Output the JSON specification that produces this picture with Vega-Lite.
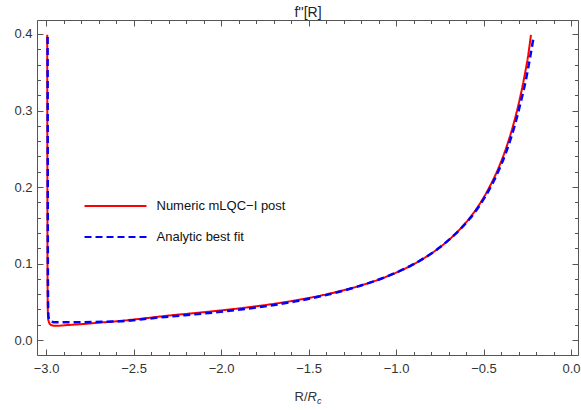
{
  "$schema": "https://vega.github.io/schema/vega-lite/v6.json",
  "width": 541,
  "height": 335,
  "autosize": {"type": "none"},
  "padding": {"left": 37, "top": 20, "right": 3, "bottom": 55},
  "background": "white",
  "config": {
    "view": {"stroke": "#555555", "strokeWidth": 1},
    "font": "Liberation Sans"
  },
  "data": {
    "values": [
      {"series": "Numeric mLQC−I post", "R": -2.9935, "f": 0.399},
      {"series": "Numeric mLQC−I post", "R": -2.993, "f": 0.30},
      {"series": "Numeric mLQC−I post", "R": -2.9925, "f": 0.20},
      {"series": "Numeric mLQC−I post", "R": -2.992, "f": 0.10},
      {"series": "Numeric mLQC−I post", "R": -2.991, "f": 0.055},
      {"series": "Numeric mLQC−I post", "R": -2.990, "f": 0.037},
      {"series": "Numeric mLQC−I post", "R": -2.988, "f": 0.028},
      {"series": "Numeric mLQC−I post", "R": -2.984, "f": 0.0235},
      {"series": "Numeric mLQC−I post", "R": -2.978, "f": 0.0208},
      {"series": "Numeric mLQC−I post", "R": -2.968, "f": 0.0193},
      {"series": "Numeric mLQC−I post", "R": -2.950, "f": 0.0186},
      {"series": "Numeric mLQC−I post", "R": -2.925, "f": 0.0187},
      {"series": "Numeric mLQC−I post", "R": -2.88, "f": 0.0195},
      {"series": "Numeric mLQC−I post", "R": -2.80, "f": 0.0207},
      {"series": "Numeric mLQC−I post", "R": -2.70, "f": 0.0226},
      {"series": "Numeric mLQC−I post", "R": -2.575, "f": 0.0250},
      {"series": "Numeric mLQC−I post", "R": -2.45, "f": 0.0280},
      {"series": "Numeric mLQC−I post", "R": -2.289, "f": 0.0322},
      {"series": "Numeric mLQC−I post", "R": -2.15, "f": 0.0352},
      {"series": "Numeric mLQC−I post", "R": -2.004, "f": 0.0386},
      {"series": "Numeric mLQC−I post", "R": -1.86, "f": 0.0423},
      {"series": "Numeric mLQC−I post", "R": -1.718, "f": 0.0466},
      {"series": "Numeric mLQC−I post", "R": -1.575, "f": 0.0518},
      {"series": "Numeric mLQC−I post", "R": -1.433, "f": 0.0580},
      {"series": "Numeric mLQC−I post", "R": -1.318, "f": 0.0640},
      {"series": "Numeric mLQC−I post", "R": -1.20, "f": 0.0714},
      {"series": "Numeric mLQC−I post", "R": -1.090, "f": 0.0797},
      {"series": "Numeric mLQC−I post", "R": -1.00, "f": 0.0880},
      {"series": "Numeric mLQC−I post", "R": -0.918, "f": 0.0968},
      {"series": "Numeric mLQC−I post", "R": -0.861, "f": 0.1041},
      {"series": "Numeric mLQC−I post", "R": -0.80, "f": 0.1128},
      {"series": "Numeric mLQC−I post", "R": -0.747, "f": 0.1216},
      {"series": "Numeric mLQC−I post", "R": -0.693, "f": 0.1319},
      {"series": "Numeric mLQC−I post", "R": -0.633, "f": 0.1452},
      {"series": "Numeric mLQC−I post", "R": -0.579, "f": 0.1595},
      {"series": "Numeric mLQC−I post", "R": -0.522, "f": 0.1778},
      {"series": "Numeric mLQC−I post", "R": -0.465, "f": 0.2004},
      {"series": "Numeric mLQC−I post", "R": -0.408, "f": 0.2283},
      {"series": "Numeric mLQC−I post", "R": -0.368, "f": 0.2528},
      {"series": "Numeric mLQC−I post", "R": -0.322, "f": 0.2877},
      {"series": "Numeric mLQC−I post", "R": -0.29, "f": 0.318},
      {"series": "Numeric mLQC−I post", "R": -0.265, "f": 0.3459},
      {"series": "Numeric mLQC−I post", "R": -0.245, "f": 0.3718},
      {"series": "Numeric mLQC−I post", "R": -0.229, "f": 0.3987},
      {"series": "Analytic best fit", "R": -2.9915, "f": 0.396},
      {"series": "Analytic best fit", "R": -2.991, "f": 0.30},
      {"series": "Analytic best fit", "R": -2.9905, "f": 0.20},
      {"series": "Analytic best fit", "R": -2.990, "f": 0.10},
      {"series": "Analytic best fit", "R": -2.989, "f": 0.055},
      {"series": "Analytic best fit", "R": -2.988, "f": 0.038},
      {"series": "Analytic best fit", "R": -2.986, "f": 0.030},
      {"series": "Analytic best fit", "R": -2.982, "f": 0.0265},
      {"series": "Analytic best fit", "R": -2.975, "f": 0.0245},
      {"series": "Analytic best fit", "R": -2.963, "f": 0.0236},
      {"series": "Analytic best fit", "R": -2.94, "f": 0.0232},
      {"series": "Analytic best fit", "R": -2.90, "f": 0.0231},
      {"series": "Analytic best fit", "R": -2.82, "f": 0.0232},
      {"series": "Analytic best fit", "R": -2.72, "f": 0.0236},
      {"series": "Analytic best fit", "R": -2.62, "f": 0.0241},
      {"series": "Analytic best fit", "R": -2.575, "f": 0.0245},
      {"series": "Analytic best fit", "R": -2.45, "f": 0.0272},
      {"series": "Analytic best fit", "R": -2.289, "f": 0.0308},
      {"series": "Analytic best fit", "R": -2.15, "f": 0.0337},
      {"series": "Analytic best fit", "R": -2.004, "f": 0.0368},
      {"series": "Analytic best fit", "R": -1.86, "f": 0.0407},
      {"series": "Analytic best fit", "R": -1.718, "f": 0.0450},
      {"series": "Analytic best fit", "R": -1.575, "f": 0.0505},
      {"series": "Analytic best fit", "R": -1.433, "f": 0.0570},
      {"series": "Analytic best fit", "R": -1.318, "f": 0.0634},
      {"series": "Analytic best fit", "R": -1.20, "f": 0.0712},
      {"series": "Analytic best fit", "R": -1.090, "f": 0.0797},
      {"series": "Analytic best fit", "R": -1.00, "f": 0.0880},
      {"series": "Analytic best fit", "R": -0.918, "f": 0.0968},
      {"series": "Analytic best fit", "R": -0.861, "f": 0.1041},
      {"series": "Analytic best fit", "R": -0.80, "f": 0.1128},
      {"series": "Analytic best fit", "R": -0.747, "f": 0.1216},
      {"series": "Analytic best fit", "R": -0.693, "f": 0.1319},
      {"series": "Analytic best fit", "R": -0.633, "f": 0.1448},
      {"series": "Analytic best fit", "R": -0.579, "f": 0.1585},
      {"series": "Analytic best fit", "R": -0.522, "f": 0.1760},
      {"series": "Analytic best fit", "R": -0.465, "f": 0.1976},
      {"series": "Analytic best fit", "R": -0.408, "f": 0.2244},
      {"series": "Analytic best fit", "R": -0.368, "f": 0.2474},
      {"series": "Analytic best fit", "R": -0.322, "f": 0.2802},
      {"series": "Analytic best fit", "R": -0.29, "f": 0.3085},
      {"series": "Analytic best fit", "R": -0.256, "f": 0.342},
      {"series": "Analytic best fit", "R": -0.235, "f": 0.368},
      {"series": "Analytic best fit", "R": -0.214, "f": 0.3957}
    ]
  },
  "resolve": {"axis": {"x": "independent", "y": "independent"}},
  "layer": [
    {
      "transform": [{"filter": "datum.series === 'Numeric mLQC−I post'"}],
      "mark": {"type": "line", "strokeWidth": 2, "interpolate": "monotone"},
      "encoding": {
        "x": {
          "field": "R", "type": "quantitative",
          "scale": {"domain": [-3.052, 0.04], "nice": false, "zero": false},
          "axis": {
            "orient": "bottom", "values": [-3, -2.5, -2, -1.5, -1, -0.5, 0], "format": ".1f",
            "domain": false, "grid": false, "tickSize": -6, "tickColor": "#555555", "tickWidth": 1,
            "labelFont": "Liberation Sans", "labelFontSize": 13, "labelColor": "#333333", "labelPadding": 13,
            "title": "R/", "titleX": 257, "titleY": 45.7, "titleAlign": "left", "titleBaseline": "alphabetic",
            "titleFont": "Liberation Sans", "titleFontSize": 13, "titleFontWeight": "normal", "titleColor": "#333333"
          }
        },
        "y": {
          "field": "f", "type": "quantitative",
          "scale": {"domain": [-0.0196, 0.4183], "nice": false, "zero": false},
          "axis": {
            "orient": "left", "values": [0, 0.1, 0.2, 0.3, 0.4], "format": ".1f",
            "domain": false, "grid": false, "tickSize": -6, "tickColor": "#555555", "tickWidth": 1,
            "labelFont": "Liberation Sans", "labelFontSize": 13, "labelColor": "#333333", "labelPadding": 11,
            "title": null
          }
        },
        "color": {
          "field": "series", "type": "nominal",
          "scale": {"domain": ["Numeric mLQC−I post", "Analytic best fit"], "range": ["#ff0000", "#0000ff"]},
          "legend": {
            "orient": "none", "legendX": 69.5, "legendY": 177, "title": null, "padding": 0,
            "symbolType": "M-4,0L4,0", "symbolSize": 240, "symbolStrokeWidth": 2.2,
            "labelFont": "Liberation Sans", "labelFontSize": 13, "labelColor": "#111111",
            "labelOffset": 32, "rowPadding": 15
          }
        },
        "strokeDash": {
          "field": "series", "type": "nominal",
          "scale": {"domain": ["Numeric mLQC−I post", "Analytic best fit"], "range": [[1, 0], [7, 4]]},
          "legend": {
            "orient": "none", "legendX": 69.5, "legendY": 177, "title": null, "padding": 0,
            "symbolType": "M-4,0L4,0", "symbolSize": 240, "symbolStrokeWidth": 2.2,
            "labelFont": "Liberation Sans", "labelFontSize": 13, "labelColor": "#111111",
            "labelOffset": 32, "rowPadding": 15
          }
        }
      }
    },
    {
      "transform": [{"filter": "datum.series === 'Analytic best fit'"}],
      "mark": {"type": "line", "strokeWidth": 2.5, "interpolate": "monotone"},
      "encoding": {
        "x": {
          "field": "R", "type": "quantitative",
          "scale": {"domain": [-3.052, 0.04], "nice": false, "zero": false},
          "axis": {
            "orient": "top", "values": [-3, -2.5, -2, -1.5, -1, -0.5, 0], "labels": false,
            "domain": false, "grid": false, "tickSize": -6, "tickColor": "#555555", "tickWidth": 1,
            "title": "f''[R]", "titleX": 270.5, "titleY": -4, "titleAlign": "center", "titleBaseline": "alphabetic",
            "titleFont": "Liberation Sans", "titleFontSize": 14, "titleFontWeight": "normal", "titleColor": "#222222"
          }
        },
        "y": {
          "field": "f", "type": "quantitative",
          "scale": {"domain": [-0.0196, 0.4183], "nice": false, "zero": false},
          "axis": {
            "orient": "right", "values": [0, 0.1, 0.2, 0.3, 0.4], "labels": false,
            "domain": false, "grid": false, "tickSize": -6, "tickColor": "#555555", "tickWidth": 1, "title": null
          }
        },
        "color": {
          "field": "series", "type": "nominal",
          "scale": {"domain": ["Numeric mLQC−I post", "Analytic best fit"], "range": ["#ff0000", "#0000ff"]},
          "legend": {
            "orient": "none", "legendX": 69.5, "legendY": 177, "title": null, "padding": 0,
            "symbolType": "M-4,0L4,0", "symbolSize": 240, "symbolStrokeWidth": 2.2,
            "labelFont": "Liberation Sans", "labelFontSize": 13, "labelColor": "#111111",
            "labelOffset": 32, "rowPadding": 15
          }
        },
        "strokeDash": {
          "field": "series", "type": "nominal",
          "scale": {"domain": ["Numeric mLQC−I post", "Analytic best fit"], "range": [[1, 0], [7, 4]]},
          "legend": {
            "orient": "none", "legendX": 69.5, "legendY": 177, "title": null, "padding": 0,
            "symbolType": "M-4,0L4,0", "symbolSize": 240, "symbolStrokeWidth": 2.2,
            "labelFont": "Liberation Sans", "labelFontSize": 13, "labelColor": "#111111",
            "labelOffset": 32, "rowPadding": 15
          }
        }
      }
    },
    {
      "transform": [{"filter": "datum.series === 'Numeric mLQC−I post'"}],
      "mark": {"type": "line", "strokeOpacity": 0},
      "encoding": {
        "x": {
          "field": "R", "type": "quantitative",
          "scale": {"domain": [-3.052, 0.04], "nice": false, "zero": false},
          "axis": {
            "orient": "bottom",
            "values": [-2.9, -2.8, -2.7, -2.6, -2.4, -2.3, -2.2, -2.1, -1.9, -1.8, -1.7, -1.6, -1.4, -1.3, -1.2, -1.1, -0.9, -0.8, -0.7, -0.6, -0.4, -0.3, -0.2, -0.1],
            "labels": false, "domain": false, "grid": false, "tickSize": -3.5, "tickColor": "#555555", "tickWidth": 1,
            "title": "R", "titleX": 270, "titleY": 45.7, "titleAlign": "left", "titleBaseline": "alphabetic",
            "titleFont": "Liberation Sans", "titleFontSize": 13, "titleFontWeight": "normal", "titleFontStyle": "italic", "titleColor": "#333333"
          }
        },
        "y": {
          "field": "f", "type": "quantitative",
          "scale": {"domain": [-0.0196, 0.4183], "nice": false, "zero": false},
          "axis": {
            "orient": "left",
            "values": [0.02, 0.04, 0.06, 0.08, 0.12, 0.14, 0.16, 0.18, 0.22, 0.24, 0.26, 0.28, 0.32, 0.34, 0.36, 0.38],
            "labels": false, "domain": false, "grid": false, "tickSize": -3.5, "tickColor": "#555555", "tickWidth": 1, "title": null
          }
        }
      }
    },
    {
      "transform": [{"filter": "datum.series === 'Numeric mLQC−I post'"}],
      "mark": {"type": "line", "strokeOpacity": 0},
      "encoding": {
        "x": {
          "field": "R", "type": "quantitative",
          "scale": {"domain": [-3.052, 0.04], "nice": false, "zero": false},
          "axis": {
            "orient": "top",
            "values": [-2.9, -2.8, -2.7, -2.6, -2.4, -2.3, -2.2, -2.1, -1.9, -1.8, -1.7, -1.6, -1.4, -1.3, -1.2, -1.1, -0.9, -0.8, -0.7, -0.6, -0.4, -0.3, -0.2, -0.1],
            "labels": false, "domain": false, "grid": false, "tickSize": -3.5, "tickColor": "#555555", "tickWidth": 1,
            "title": "c", "titleX": 279.5, "titleY": 383.5, "titleAlign": "left", "titleBaseline": "alphabetic",
            "titleFont": "Liberation Sans", "titleFontSize": 9, "titleFontWeight": "normal", "titleFontStyle": "italic", "titleColor": "#333333"
          }
        },
        "y": {
          "field": "f", "type": "quantitative",
          "scale": {"domain": [-0.0196, 0.4183], "nice": false, "zero": false},
          "axis": {
            "orient": "right",
            "values": [0.02, 0.04, 0.06, 0.08, 0.12, 0.14, 0.16, 0.18, 0.22, 0.24, 0.26, 0.28, 0.32, 0.34, 0.36, 0.38],
            "labels": false, "domain": false, "grid": false, "tickSize": -3.5, "tickColor": "#555555", "tickWidth": 1, "title": null
          }
        }
      }
    }
  ]
}
